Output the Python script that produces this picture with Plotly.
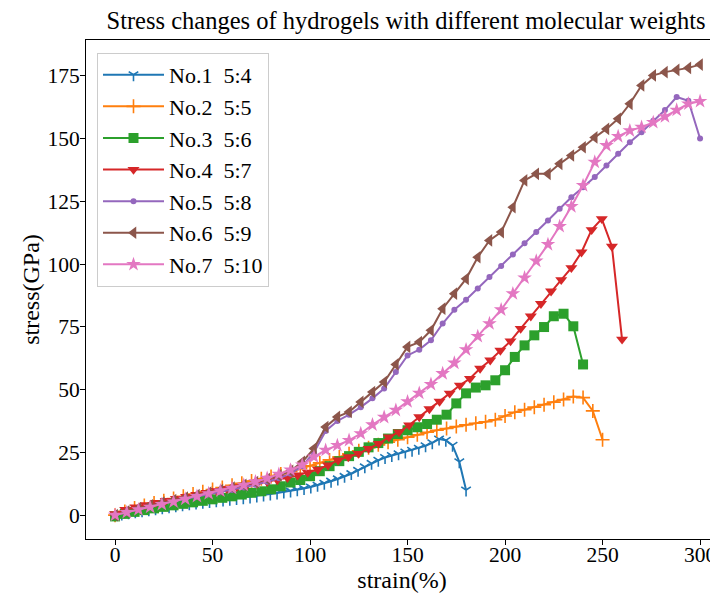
import plotly.graph_objects as go

names = ["No.1\u00a0\u00a05:4", "No.2\u00a0\u00a05:5", "No.3\u00a0\u00a05:6", "No.4\u00a0\u00a05:7",
         "No.5\u00a0\u00a05:8", "No.6\u00a0\u00a05:9", "No.7\u00a0\u00a05:10"]

x1 = [0, 3.46, 6.92, 10.38, 13.85, 17.31, 20.77, 24.23, 27.69, 31.15, 34.62, 38.08, 41.54, 45.0,
      48.46, 51.92, 55.38, 58.85, 62.31, 65.77, 69.23, 72.69, 76.15, 79.62, 83.08, 86.54, 90.0,
      93.46, 96.92, 100.38, 103.85, 107.31, 110.77, 114.23, 117.69, 121.15, 124.62, 128.08, 131.54,
      135.0, 138.46, 141.92, 145.38, 148.85, 152.31, 155.77, 159.23, 162.69, 166.15, 169.62, 173.08,
      176.54, 180.0]
y1 = [0, 0.4, 0.9, 1.3, 1.7, 2.1, 2.5, 2.9, 3.3, 3.7, 4.1, 4.5, 4.8, 5.1, 5.4, 5.7, 6.0, 6.3, 6.6,
      6.9, 7.2, 7.6, 8.0, 8.4, 8.8, 9.2, 9.6, 10.1, 10.6, 11.2, 11.9, 12.7, 13.5, 14.4, 15.4, 16.5,
      17.8, 19.2, 20.6, 21.8, 22.9, 23.7, 24.4, 25.1, 25.8, 26.6, 27.6, 28.8, 30.3, 29.8, 27.8, 21.2,
      10.0]

x2 = [0, 5, 10, 15, 20, 25, 30, 35, 40, 45, 50, 55, 60, 65, 70, 75, 80, 85, 90, 95, 100, 105, 110,
      115, 120, 125, 130, 135, 140, 145, 150, 155, 160, 165, 170, 175, 180, 185, 190, 195, 200, 205,
      210, 215, 220, 225, 230, 235, 240, 245, 250]
y2 = [0, 1.5, 2.8, 3.8, 4.8, 5.7, 6.6, 7.5, 8.4, 9.3, 10.2, 11.0, 11.9, 12.7, 13.6, 14.5, 15.4, 16.4,
      17.4, 18.5, 19.6, 20.8, 22.0, 23.2, 24.4, 25.6, 26.8, 28.0, 29.0, 30.0, 31.0, 32.0, 33.0, 33.8,
      34.5, 35.3, 36.0, 36.6, 37.2, 38.0, 39.5, 41.0, 42.0, 43.0, 44.0, 45.0, 46.0, 47.2, 46.8, 41.5,
      30.0]

x3 = [0, 5, 10, 15, 20, 25, 30, 35, 40, 45, 50, 55, 60, 65, 70, 75, 80, 85, 90, 95, 100, 105, 110,
      115, 120, 125, 130, 135, 140, 145, 150, 155, 160, 165, 170, 175, 180, 185, 190, 195, 200, 205,
      210, 215, 220, 225, 230, 235, 240]
y3 = [-0.5, 0.5, 1.3, 2.0, 2.7, 3.3, 3.9, 4.5, 5.1, 5.7, 6.3, 6.9, 7.5, 8.2, 8.9, 9.5, 10.3, 11.5,
      13.0, 14.0, 15.5, 17.5, 19.5, 21.5, 23.5, 25.2, 27.0, 28.7, 30.5, 32.3, 33.8, 35.0, 36.3, 38.0,
      40.0, 44.5, 48.5, 50.8, 51.7, 53.7, 57.7, 63.0, 67.6, 71.6, 74.9, 79.2, 80.2, 75.2, 60.0]

x4 = [0, 5.2, 10.4, 15.6, 20.8, 26, 31.2, 36.4, 41.6, 46.8, 52, 57.2, 62.4, 67.6, 72.8, 78, 83.2,
      88.4, 93.6, 98.8, 104, 109.2, 114.4, 119.6, 124.8, 130, 135.2, 140.4, 145.6, 150.8, 156, 161.2,
      166.4, 171.6, 176.8, 182, 187.2, 192.4, 197.6, 202.8, 208, 213.2, 218.4, 223.6, 228.8, 234,
      239.2, 244.4, 249.6, 254.8, 260]
y4 = [0.5, 2.2, 3.2, 4.1, 5.0, 5.8, 6.6, 7.4, 8.2, 9.0, 9.8, 10.6, 11.3, 12.0, 12.6, 13.3, 14.0, 14.9,
      15.9, 17.0, 18.2, 19.9, 21.9, 23.2, 24.5, 26.5, 28.5, 31.1, 33.1, 35.8, 39.1, 42.3, 45.3, 48.5,
      51.7, 54.4, 58.4, 61.7, 65.6, 69.3, 74.3, 79.2, 84.2, 89.2, 93.7, 98.5, 104.7, 113.6, 118.0,
      107.0, 70.0]

x6step = [0, 6, 12, 18, 24, 30, 36, 42, 48, 54, 60, 66, 72, 78, 84, 90, 96, 102, 108, 114, 120, 126,
          132, 138, 144, 150, 156, 162, 168, 174, 180, 186, 192, 198, 204, 210, 216, 222, 228, 234,
          240, 246, 252, 258, 264, 270, 276, 282, 288, 294, 300]
y5 = [0, 1.2, 2.4, 3.5, 4.5, 5.5, 6.4, 7.3, 8.2, 9.1, 10.0, 11.0, 12.1, 13.3, 14.7, 16.5, 19.5, 25.0,
      33.5, 37.5, 40.0, 43.0, 46.5, 50.4, 57.0, 63.6, 65.9, 69.6, 76.3, 81.8, 85.8, 90.2, 94.8, 99.2,
      103.8, 108.3, 112.7, 117.3, 122.0, 126.6, 130.6, 134.6, 139.2, 143.9, 148.5, 152.5, 157.0,
      161.3, 166.5, 165.0, 150.0]
y6 = [0, 1.5, 2.8, 3.9, 5.0, 6.0, 7.0, 8.0, 9.0, 10.0, 11.0, 12.1, 13.2, 14.4, 15.8, 17.6, 21.2, 26.5,
      35.1, 39.1, 41.1, 45.1, 49.0, 53.0, 60.0, 67.0, 68.9, 73.6, 82.2, 88.2, 94.1, 102.7, 109.4,
      112.7, 122.6, 133.3, 135.9, 135.9, 139.9, 143.2, 146.5, 150.4, 153.8, 157.8, 163.8, 171.1,
      175.1, 176.4, 177.3, 178.1, 179.4]
y7 = [0, 1.1, 2.2, 3.2, 4.3, 5.3, 6.4, 7.5, 8.6, 9.7, 10.8, 12.0, 13.3, 14.7, 16.3, 18.0, 20.0, 23.2,
      25.9, 27.8, 29.8, 32.5, 36.0, 39.0, 41.8, 45.2, 48.6, 52.1, 56.4, 60.6, 65.9, 71.2, 76.3, 81.8,
      88.2, 94.5, 101.2, 107.8, 115.0, 122.9, 131.3, 140.6, 147.2, 150.8, 153.1, 154.5, 156.4, 158.7,
      161.3, 163.8, 164.8]

xticks = [0, 50, 100, 150, 200, 250, 300]
yticks = [0, 25, 50, 75, 100, 125, 150, 175]

colors = ["#1f77b4", "#ff7f0e", "#2ca02c", "#d62728", "#9467bd", "#8c564b", "#e377c2"]
series = [(x1, y1), (x2, y2), (x3, y3), (x4, y4), (x6step, y5), (x6step, y6), (x6step, y7)]
symbols = ["y-down", "cross-thin", "square", "triangle-down", "circle", "triangle-left", "star"]
sizes = [8, 10, 10, 10.5, 6, 11, 11]
line_sym = [True, True, False, False, False, False, False]

FONT = "Liberation Serif"
W, H = 710, 588  # page body has an 8px margin, so the visible 718x596 window shows this area

fig = go.Figure()
for i, (xs, ys) in enumerate(series):
    if line_sym[i]:
        mk = dict(symbol=symbols[i], size=sizes[i], color=colors[i],
                  line=dict(color=colors[i], width=1.6))
    else:
        mk = dict(symbol=symbols[i], size=sizes[i], color=colors[i], line=dict(width=0))
    fig.add_trace(go.Scatter(x=xs, y=ys, mode="lines+markers", name=names[i],
                             line=dict(color=colors[i], width=2), marker=mk))

fig.update_layout(
    width=W, height=H,
    margin=dict(l=78, r=0, t=32, b=57, autoexpand=False),
    plot_bgcolor="white", paper_bgcolor="white",
    font=dict(family=FONT, color="black"),
    title=dict(text="Stress changes of hydrogels with different molecular weights",
               x=398 / W, xref="container", xanchor="center",
               y=1 - 12 / H, yref="container", yanchor="middle",
               font=dict(family=FONT, size=24.5, color="black")),
    legend=dict(x=0.0174, y=0.974, xanchor="left", yanchor="top",
                bordercolor="#cccccc", borderwidth=1, bgcolor="rgba(255,255,255,0.8)",
                font=dict(family=FONT, size=22, color="black"),
                tracegroupgap=0, itemwidth=61),
    xaxis=dict(range=[-14.9, 309.2], tickvals=xticks, ticks="outside", ticklen=5, tickwidth=1,
               tickcolor="black", showline=True, linecolor="black", linewidth=1, mirror=True,
               showgrid=False, zeroline=False, tickfont=dict(family=FONT, size=21.5),
               automargin=False, ticklabelstandoff=-9,
               title=dict(text="strain(%)", font=dict(family=FONT, size=24), standoff=5)),
    yaxis=dict(range=[-9.5, 189.2], tickvals=yticks, ticks="outside", ticklen=5, tickwidth=1,
               tickcolor="black", showline=True, linecolor="black", linewidth=1, mirror=False,
               showgrid=False, zeroline=False, tickfont=dict(family=FONT, size=21.5),
               automargin=False, ticklabelstandoff=-4,
               title=dict(text="stress(GPa)", font=dict(family=FONT, size=24), standoff=1)),
)

fig.write_html("out.html")
